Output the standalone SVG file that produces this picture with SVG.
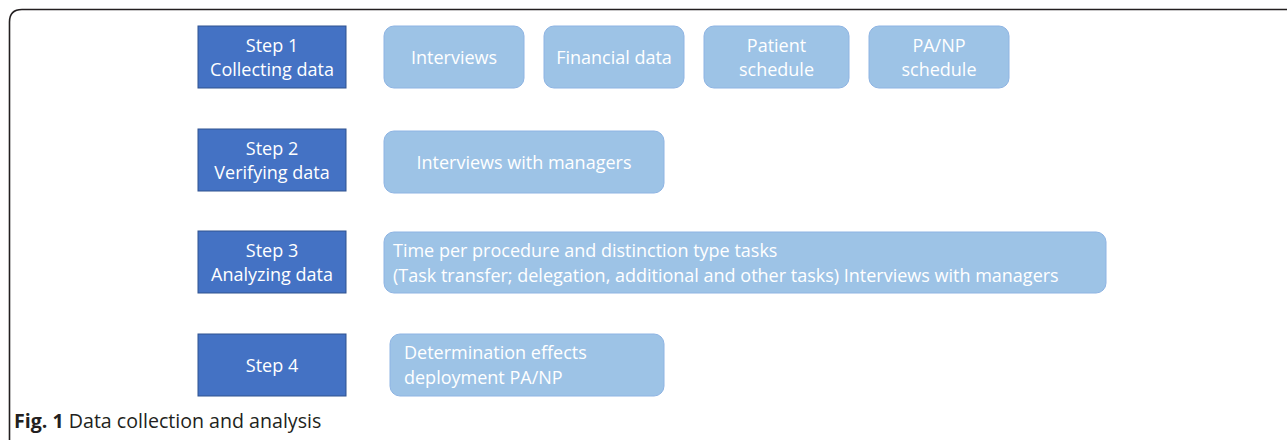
<svg xmlns="http://www.w3.org/2000/svg" width="1287" height="440" viewBox="0 0 1287 440">
<style>
.step{fill:#4472C4;stroke:#2F528F;stroke-width:1}
.item{fill:#9DC3E6;stroke:#8EB4E3;stroke-width:1}
.t{font-family:"Open Sans","Liberation Sans",sans-serif;font-size:18px;fill:#ffffff}
.c{text-anchor:middle}
.cap{font-family:"Open Sans","Liberation Sans",sans-serif;font-size:19.6px;fill:#231f20}
</style>
<rect width="1287" height="440" fill="#ffffff"/>
<path d="M9.5,440 L9.5,22 Q9.5,9.5 22,9.5 L1287,9.5" fill="none" stroke="#231f20" stroke-width="1.6"/>
<g id="connectors"></g>
<g id="step1"><rect class="step" x="198" y="26" width="148" height="62"/><text class="t c" x="272" y="52">Step 1</text><text class="t c" x="272" y="76">Collecting data</text></g>
<g id="interviews"><rect class="item" x="384" y="26" width="140" height="62" rx="10"/><text class="t c" x="454" y="64">Interviews</text></g>
<g id="financial"><rect class="item" x="544" y="26" width="140" height="62" rx="10"/><text class="t c" x="614" y="64">Financial data</text></g>
<g id="patient"><rect class="item" x="704" y="26" width="145" height="62" rx="10"/><text class="t c" x="776.5" y="52">Patient</text><text class="t c" x="776.5" y="76">schedule</text></g>
<g id="panp"><rect class="item" x="869" y="26" width="140" height="62" rx="10"/><text class="t c" x="939" y="52">PA/NP</text><text class="t c" x="939" y="76">schedule</text></g>
<g id="step2"><rect class="step" x="198" y="129" width="148" height="62"/><text class="t c" x="272" y="155">Step 2</text><text class="t c" x="272" y="179">Verifying data</text></g>
<g id="managers"><rect class="item" x="384" y="131" width="280" height="62" rx="10"/><text class="t c" x="524" y="169">Interviews with managers</text></g>
<g id="step3"><rect class="step" x="198" y="231" width="148" height="62"/><text class="t c" x="272" y="257">Step 3</text><text class="t c" x="272" y="281">Analyzing data</text></g>
<g id="analysis"><rect class="item" x="384" y="232" width="722" height="61" rx="10"/><text class="t" x="393" y="257">Time per procedure and  distinction type tasks</text><text class="t" x="393" y="282">(Task transfer; delegation, additional and other tasks) Interviews with managers</text></g>
<g id="step4"><rect class="step" x="198" y="334" width="148" height="62"/><text class="t c" x="272" y="372">Step 4</text></g>
<g id="effects"><rect class="item" x="390" y="334" width="274" height="62" rx="10"/><text class="t" x="404" y="359">Determination effects</text><text class="t" x="404" y="384">deployment PA/NP</text></g>
<text class="cap" x="14" y="428"><tspan font-weight="bold">Fig. 1</tspan> Data collection and analysis</text>
</svg>
